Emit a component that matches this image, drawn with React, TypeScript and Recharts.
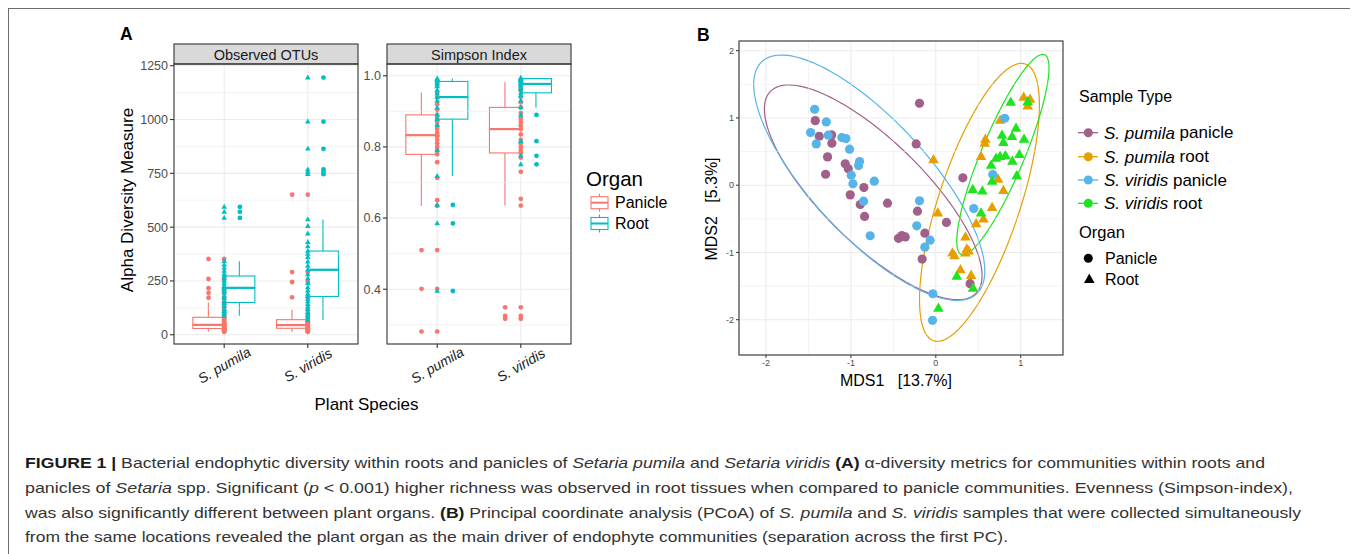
import React from 'react';
import {
  ComposedChart,
  Bar,
  Scatter,
  XAxis,
  YAxis,
  CartesianGrid,
  ReferenceLine,
  ReferenceArea,
} from 'recharts';

const FONT = '"Liberation Sans", Arial, Helvetica, sans-serif';
const RED = '#F8766D';
const TEAL = '#00BFC4';
const GRID = '#EBEBEB';
const C_PP = '#A0608A';
const C_PR = '#E69F00';
const C_VP = '#56B4E9';
const C_VR = '#1EE31E';

// ---------------- Panel A data ----------------
const speciesLabels = ['S. pumila', 'S. viridis'];
const organLabels = ['Panicle', 'Root'];
const otuTicks = [0, 250, 500, 750, 1000, 1250];
const otuMinorTicks = [125, 375, 625, 875, 1125];
const simpsonTicks = [0.4, 0.6, 0.8, 1.0];
const simpsonMinorTicks = [0.3, 0.5, 0.7, 0.9];

// box summaries: [lower whisker, Q1, median, Q3, upper whisker] for S. pumila, S. viridis
const otuPanicleBox = [[14, 29, 46, 81, 150], [14, 30, 45, 70, 116]];
const otuRootBox = [[88, 150, 218, 273, 342], [68, 178, 302, 389, 536]];
const otuPanicleOutliers = [[172, 195, 216, 259, 352], [174, 245, 291, 651]];
const otuRootOutliers = [[543, 571, 594], [746, 757, 768, 864, 990, 1195]];
const otuPanicleSamples = [
  [14, 16, 18, 20, 22, 25, 28, 30, 33, 36, 40, 44, 46, 48, 52, 56, 62, 70, 78, 81, 95, 110, 130, 149, 172, 195, 216, 259, 352],
  [14, 16, 19, 22, 25, 28, 30, 34, 38, 42, 45, 48, 52, 58, 64, 70, 82, 95, 116, 174, 245, 291, 651],
];
const otuRootSamples = [
  [88, 98, 110, 120, 132, 145, 150, 158, 170, 182, 195, 205, 212, 218, 226, 238, 250, 262, 273, 282, 296, 310, 325, 342, 543, 571, 594],
  [68, 80, 92, 105, 118, 130, 142, 155, 165, 178, 190, 205, 220, 240, 262, 280, 302, 320, 340, 360, 375, 389, 410, 430, 470, 505, 536, 746, 757, 768, 864, 990, 1195],
];

const simpsonPanicleBox = [[0.634, 0.779, 0.833, 0.89, 0.953], [0.635, 0.783, 0.85, 0.911, 0.982]];
const simpsonRootBox = [[0.718, 0.878, 0.94, 0.984, 0.992], [0.911, 0.952, 0.977, 0.992, 0.994]];
const simpsonPanicleOutliers = [[0.281, 0.401, 0.51], [0.317, 0.325, 0.349]];
const simpsonRootOutliers = [[0.395, 0.585, 0.637], [0.751, 0.775, 0.816, 0.89]];
const simpsonPanicleSamples = [
  [0.281, 0.401, 0.51, 0.634, 0.65, 0.713, 0.757, 0.779, 0.79, 0.8, 0.81, 0.82, 0.83, 0.833, 0.84, 0.85, 0.86, 0.87, 0.88, 0.89, 0.905, 0.92, 0.94, 0.953],
  [0.317, 0.325, 0.349, 0.635, 0.654, 0.73, 0.77, 0.783, 0.79, 0.8, 0.81, 0.82, 0.835, 0.85, 0.86, 0.87, 0.88, 0.895, 0.911, 0.925, 0.94, 0.96, 0.982],
];
const simpsonRootSamples = [
  [0.395, 0.585, 0.637, 0.718, 0.79, 0.86, 0.878, 0.89, 0.91, 0.93, 0.94, 0.95, 0.96, 0.97, 0.975, 0.98, 0.984, 0.988, 0.99, 0.992],
  [0.751, 0.775, 0.816, 0.89, 0.911, 0.93, 0.945, 0.952, 0.96, 0.965, 0.97, 0.975, 0.977, 0.98, 0.985, 0.988, 0.99, 0.992, 0.994],
];

// ---------------- Panel B data ----------------
const mdsXTicks = [-2, -1, 0, 1];
const mdsYTicks = [-2, -1, 0, 1, 2];
const mdsXMinor = [-1.5, -0.5, 0.5];
const mdsYMinor = [-1.5, -0.5, 0.5, 1.5];

const pumilaPanicle = [
  { x: -0.192, y: 1.218 }, { x: -1.42, y: 0.96 }, { x: -1.373, y: 0.728 }, { x: -1.227, y: 0.748 },
  { x: -1.224, y: 0.624 }, { x: -1.275, y: 0.421 }, { x: -1.298, y: 0.163 }, { x: -1.067, y: 0.317 },
  { x: -1.031, y: 0.243 }, { x: -1.008, y: -0.144 }, { x: -0.847, y: -0.035 }, { x: -0.89, y: -0.287 },
  { x: -0.839, y: -0.465 }, { x: -0.569, y: -0.267 }, { x: -0.231, y: 0.614 }, { x: -0.216, y: -0.386 },
  { x: -0.44, y: -0.79 }, { x: -0.4, y: -0.75 }, { x: -0.36, y: -0.77 }, { x: -0.129, y: -0.713 },
  { x: -0.161, y: -1.099 }, { x: 0.125, y: -0.554 }, { x: 0.318, y: 0.109 }, { x: 0.404, y: -1.465 },
];
const pumilaRoot = [
  { x: -0.027, y: 0.376 }, { x: 0.024, y: -0.416 }, { x: 1.035, y: 1.307 }, { x: 1.11, y: 1.277 },
  { x: 1.082, y: 1.178 }, { x: 0.757, y: 0.965 }, { x: 0.584, y: 0.683 }, { x: 0.576, y: 0.624 },
  { x: 0.533, y: 0.426 }, { x: 0.733, y: 0.089 }, { x: 0.796, y: -0.079 }, { x: 0.663, y: -0.332 },
  { x: 0.561, y: -0.505 }, { x: 0.475, y: -0.574 }, { x: 0.349, y: -0.772 }, { x: 0.365, y: -0.95 },
  { x: 0.388, y: -0.98 }, { x: 0.349, y: -1.01 }, { x: 0.196, y: -1.01 }, { x: 0.22, y: -1.05 },
  { x: 0.29, y: -1.257 }, { x: 0.416, y: -1.342 },
];
const viridisPanicle = [
  { x: -1.427, y: 1.129 }, { x: -1.29, y: 0.941 }, { x: -1.475, y: 0.782 }, { x: -1.408, y: 0.614 },
  { x: -1.267, y: 0.743 }, { x: -1.106, y: 0.708 }, { x: -1.059, y: 0.693 }, { x: -1.016, y: 0.535 },
  { x: -0.898, y: 0.351 }, { x: -0.91, y: 0.292 }, { x: -0.996, y: 0.149 }, { x: -0.976, y: 0.02 },
  { x: -0.725, y: 0.059 }, { x: -0.851, y: -0.238 }, { x: -0.773, y: -0.752 }, { x: -0.192, y: -0.233 },
  { x: -0.224, y: -0.604 }, { x: -0.067, y: -0.817 }, { x: -0.129, y: -0.921 }, { x: -0.035, y: -1.614 },
  { x: -0.039, y: -2.01 }, { x: 0.447, y: -0.347 }, { x: 0.671, y: 0.158 }, { x: 0.812, y: 0.995 },
];
const viridisRoot = [
  { x: 0.882, y: 1.233 }, { x: 1.082, y: 1.238 }, { x: 0.945, y: 0.847 }, { x: 0.78, y: 0.743 },
  { x: 0.898, y: 0.723 }, { x: 1.039, y: 0.683 }, { x: 0.796, y: 0.634 }, { x: 0.71, y: 0.401 },
  { x: 0.757, y: 0.426 }, { x: 0.82, y: 0.436 }, { x: 0.984, y: 0.455 }, { x: 0.902, y: 0.356 },
  { x: 0.651, y: 0.297 }, { x: 0.663, y: 0.059 }, { x: 0.953, y: 0.139 }, { x: 0.435, y: -0.064 },
  { x: 0.549, y: -0.089 }, { x: 0.533, y: -0.416 }, { x: 0.247, y: -1.356 }, { x: 0.439, y: -1.535 },
  { x: 0.031, y: -1.832 },
];

// ellipse summaries per sample type (pumila panicle, pumila root, viridis panicle, viridis root)
const ellipseCenterX = [-0.737, 0.514, -0.784, 0.79];
const ellipseCenterY = [-0.106, -0.255, 0.111, 0.455];
const ellipseHalfWidth = [1.282, 0.706, 1.361, 0.543];
const ellipseHalfHeight = [1.597, 2.067, 1.824, 1.49];
const ellipseCorrelation = [-0.776, 0.7, -0.76, 0.864];
const sampleColors = [C_PP, C_PR, C_VP, C_VR];
const sampleSeries = [pumilaPanicle, pumilaRoot, viridisPanicle, viridisRoot];
const sampleIsRoot = [false, true, false, true];

// ---------------- helpers ----------------
const PLOT_TOP = 64;
const PLOT_W = 184;
const PLOT_H = 280;
const PAD = 8.4;
const DODGE = 0.1875;
const TOPM = 10;

function boxRows(pan: number[][], root: number[][]) {
  return speciesLabels.map((species, i) => {
    const p = pan[i];
    const r = root[i];
    return {
      species,
      pBase: p[0], pWL: p[1] - p[0], pBL: p[2] - p[1], pBH: p[3] - p[2], pWH: p[4] - p[3],
      rBase: r[0], rWL: r[1] - r[0], rBL: r[2] - r[1], rBH: r[3] - r[2], rWH: r[4] - r[3],
    };
  });
}
function pointRows(lists: number[][], offset: number) {
  return lists.flatMap((vals, i) => vals.map((y) => ({ x: i + 1 + offset, y })));
}

const NoShape = () => <g />;
const whiskerShape = (color: string) => (p: any) => {
  const cx = p.x + p.width / 2;
  return <line x1={cx} x2={cx} y1={p.y} y2={p.y + p.height} stroke={color} strokeWidth={1.1} />;
};
const boxShape = (color: string, median: boolean) => (p: any) => (
  <g>
    <rect x={p.x} y={p.y} width={p.width} height={p.height} fill="#fff" stroke={color} strokeWidth={1.1} />
    {median ? (
      <line x1={p.x} x2={p.x + p.width} y1={p.y + p.height} y2={p.y + p.height} stroke={color} strokeWidth={2.2} />
    ) : null}
  </g>
);
const dotShape = (color: string, r: number) => (p: any) => <circle cx={p.cx} cy={p.cy} r={r} fill={color} />;
const triShape = (color: string, s: number) => (p: any) => (
  <path
    d={`M${p.cx},${p.cy - s * 1.1}L${p.cx + s},${p.cy + s * 0.65}L${p.cx - s},${p.cy + s * 0.65}Z`}
    fill={color}
  />
);

const SpeciesTick = (props: any) => {
  const { x, y, payload } = props;
  const cy = y + 17;
  return (
    <text
      x={x}
      y={cy}
      textAnchor="middle"
      dominantBaseline="central"
      transform={`rotate(-30 ${x} ${cy})`}
      fontSize={14}
      fontStyle="italic"
      fill="#1A1A1A"
      fontFamily={FONT}
    >
      {payload.value}
    </text>
  );
};

type FacetProps = {
  left: number;
  yWidth: number;
  pan: number[][];
  root: number[][];
  panOut: number[][];
  rootOut: number[][];
  panSamp: number[][];
  rootSamp: number[][];
  domain: [number, number];
  ticks: number[];
  minorTicks: number[];
  fmt: (v: number) => string;
};

function Facet(f: FacetProps) {
  const rows = boxRows(f.pan, f.root);
  return (
    <div style={{ position: 'absolute', left: f.left - f.yWidth - 9, top: PLOT_TOP - TOPM - 9 }}>
      <ComposedChart
        width={f.yWidth + PLOT_W}
        height={TOPM + PLOT_H + 56}
        data={rows}
        margin={{ top: TOPM, right: 0, bottom: 0, left: 0 }}
        barCategoryGap="12.5%"
        barGap={0}
      >
        <CartesianGrid xAxisId="cat" vertical={false} stroke={GRID} strokeWidth={1.1} />
        {f.minorTicks.map((v) => (
          <ReferenceLine key={'m' + v} xAxisId="num" y={v} stroke={GRID} strokeWidth={0.6} />
        ))}
        {[1, 2].map((v) => (
          <ReferenceLine key={'v' + v} xAxisId="num" x={v} stroke={GRID} strokeWidth={1.1} />
        ))}
        <XAxis
          xAxisId="cat"
          dataKey="species"
          type="category"
          padding={{ left: PAD, right: PAD }}
          height={56}
          axisLine={false}
          tickLine={{ stroke: '#333', strokeWidth: 1.1 }}
          tickSize={4}
          tickMargin={0}
          interval={0}
          tick={<SpeciesTick />}
        />
        <XAxis
          xAxisId="num"
          dataKey="x"
          type="number"
          domain={[0.5, 2.5]}
          allowDataOverflow
          hide
          padding={{ left: PAD, right: PAD }}
        />
        <YAxis
          dataKey="y"
          type="number"
          domain={f.domain}
          ticks={f.ticks}
          allowDataOverflow
          interval={0}
          width={f.yWidth}
          axisLine={false}
          tickLine={{ stroke: '#333', strokeWidth: 1.1 }}
          tickSize={4}
          tickMargin={2}
          tickFormatter={f.fmt}
          tick={{ fill: '#4D4D4D', fontSize: 12.5, fontFamily: FONT }}
        />
        <Bar xAxisId="cat" dataKey="pBase" stackId="p" shape={NoShape} isAnimationActive={false} />
        <Bar xAxisId="cat" dataKey="pWL" stackId="p" shape={whiskerShape(RED)} isAnimationActive={false} />
        <Bar xAxisId="cat" dataKey="pBL" stackId="p" shape={boxShape(RED, false)} isAnimationActive={false} />
        <Bar xAxisId="cat" dataKey="pBH" stackId="p" shape={boxShape(RED, true)} isAnimationActive={false} />
        <Bar xAxisId="cat" dataKey="pWH" stackId="p" shape={whiskerShape(RED)} isAnimationActive={false} />
        <Bar xAxisId="cat" dataKey="rBase" stackId="r" shape={NoShape} isAnimationActive={false} />
        <Bar xAxisId="cat" dataKey="rWL" stackId="r" shape={whiskerShape(TEAL)} isAnimationActive={false} />
        <Bar xAxisId="cat" dataKey="rBL" stackId="r" shape={boxShape(TEAL, false)} isAnimationActive={false} />
        <Bar xAxisId="cat" dataKey="rBH" stackId="r" shape={boxShape(TEAL, true)} isAnimationActive={false} />
        <Bar xAxisId="cat" dataKey="rWH" stackId="r" shape={whiskerShape(TEAL)} isAnimationActive={false} />
        <Scatter xAxisId="num" data={pointRows(f.panOut, -DODGE)} shape={dotShape(RED, 2.4)} isAnimationActive={false} />
        <Scatter xAxisId="num" data={pointRows(f.rootOut, DODGE)} shape={dotShape(TEAL, 2.4)} isAnimationActive={false} />
        <Scatter xAxisId="num" data={pointRows(f.panSamp, 0)} shape={dotShape(RED, 2.4)} isAnimationActive={false} />
        <Scatter xAxisId="num" data={pointRows(f.rootSamp, 0)} shape={triShape(TEAL, 2.8)} isAnimationActive={false} />
      </ComposedChart>
    </div>
  );
}

const EllipseShape = (p: any) => {
  const { x, y, width, height, rho, color } = p;
  const cx = x + width / 2;
  const cy = y + height / 2;
  const a = Math.abs(width) / 2;
  const b = Math.abs(height) / 2;
  const k = Math.sqrt(1 - rho * rho);
  let d = '';
  for (let i = 0; i <= 144; i++) {
    const t = (i / 144) * Math.PI * 2;
    const px = cx + a * Math.cos(t);
    const py = cy - rho * b * Math.cos(t) + k * b * Math.sin(t);
    d += (i === 0 ? 'M' : 'L') + px.toFixed(2) + ',' + py.toFixed(2);
  }
  return <path d={d + 'Z'} fill="none" stroke={color} strokeWidth={1.2} />;
};

function PanelB() {
  return (
    <div style={{ position: 'absolute', left: 725 - 9, top: 41 - TOPM - 9 }}>
      <ComposedChart
        width={14 + 324}
        height={TOPM + 314 + 24}
        margin={{ top: TOPM, right: 0, bottom: 0, left: 0 }}
      >
        <CartesianGrid stroke={GRID} strokeWidth={1.1} />
        {mdsXMinor.map((v) => (
          <ReferenceLine key={'mx' + v} x={v} stroke={GRID} strokeWidth={0.6} />
        ))}
        {mdsYMinor.map((v) => (
          <ReferenceLine key={'my' + v} y={v} stroke={GRID} strokeWidth={0.6} />
        ))}
        <XAxis
          dataKey="x"
          type="number"
          domain={[-2.318, 1.498]}
          ticks={mdsXTicks}
          allowDataOverflow
          interval={0}
          height={24}
          axisLine={false}
          tickLine={{ stroke: '#333', strokeWidth: 1 }}
          tickSize={3}
          tickMargin={2}
          tick={{ fill: '#4D4D4D', fontSize: 9, fontFamily: FONT }}
        />
        <YAxis
          dataKey="y"
          type="number"
          domain={[-2.525, 2.144]}
          ticks={mdsYTicks}
          allowDataOverflow
          interval={0}
          width={14}
          axisLine={false}
          tickLine={{ stroke: '#333', strokeWidth: 1 }}
          tickSize={3}
          tickMargin={2}
          tick={{ fill: '#4D4D4D', fontSize: 9, fontFamily: FONT }}
        />
        {sampleSeries.map((data, i) => (
          <Scatter
            key={'s' + i}
            data={data}
            shape={sampleIsRoot[i] ? triShape(sampleColors[i], 5.3) : dotShape(sampleColors[i], 4.6)}
            isAnimationActive={false}
          />
        ))}
        {ellipseCenterX.map((cx, i) => (
          <ReferenceArea
            key={'e' + i}
            x1={cx - ellipseHalfWidth[i]}
            x2={cx + ellipseHalfWidth[i]}
            y1={ellipseCenterY[i] - ellipseHalfHeight[i]}
            y2={ellipseCenterY[i] + ellipseHalfHeight[i]}
            ifOverflow="visible"
            shape={(p: any) => <EllipseShape {...p} rho={ellipseCorrelation[i]} color={sampleColors[i]} />}
          />
        ))}
      </ComposedChart>
    </div>
  );
}

type Seg = [string, string];
const captionLines: Seg[][] = [
  [
    ['FIGURE 1 |', 'b'],
    [' Bacterial endophytic diversity within roots and panicles of ', ''],
    ['Setaria pumila', 'i'],
    [' and ', ''],
    ['Setaria viridis', 'i'],
    [' ', ''],
    ['(A)', 'b'],
    [' \u03b1-diversity metrics for communities within roots and', ''],
  ],
  [
    ['panicles of ', ''],
    ['Setaria', 'i'],
    [' spp. Significant (', ''],
    ['p', 'i'],
    [' < 0.001) higher richness was observed in root tissues when compared to panicle communities. Evenness (Simpson-index),', ''],
  ],
  [
    ['was also significantly different between plant organs. ', ''],
    ['(B)', 'b'],
    [' Principal coordinate analysis (PCoA) of ', ''],
    ['S. pumila', 'i'],
    [' and ', ''],
    ['S. viridis', 'i'],
    [' samples that were collected simultaneously', ''],
  ],
  [['from the same locations revealed the plant organ as the main driver of endophyte communities (separation across the first PC).', '']],
];
const captionBaselines = [468, 493, 517.5, 542];
const captionWidths = [1240, 1268, 1276, 983];

function Overlay() {
  const sampleLegendY = [132.7, 156.7, 180, 203.3];
  const organLegendY = [202.7, 223.5];
  const organColors = [RED, TEAL];
  const organLower = ['panicle', 'root'];
  return (
    <svg
      width={1358}
      height={554}
      style={{ position: 'absolute', left: -9, top: -9, pointerEvents: 'none' }}
      fontFamily={FONT}
    >
      {/* panel labels */}
      <text x={120} y={39.5} fontSize={17.5} fontWeight="bold" fill="#000">A</text>
      <text x={697} y={41} fontSize={17.5} fontWeight="bold" fill="#000">B</text>

      {/* strips */}
      {['Observed OTUs', 'Simpson Index'].map((t, i) => {
        const x = i === 0 ? 174 : 387;
        return (
          <g key={t}>
            <rect x={x} y={44} width={PLOT_W} height={20} fill="#D9D9D9" stroke="#333" strokeWidth={1.1} />
            <text x={x + PLOT_W / 2} y={54.5} textAnchor="middle" dominantBaseline="central" fontSize={14.5} fill="#1A1A1A">
              {t}
            </text>
          </g>
        );
      })}
      {/* panel borders */}
      <rect x={174} y={PLOT_TOP} width={PLOT_W} height={PLOT_H} fill="none" stroke="#333" strokeWidth={1.1} />
      <rect x={387} y={PLOT_TOP} width={PLOT_W} height={PLOT_H} fill="none" stroke="#333" strokeWidth={1.1} />
      <rect x={739} y={41} width={324} height={314} fill="none" stroke="#333" strokeWidth={1.1} />

      {/* panel A axis titles */}
      <text transform="translate(127,200) rotate(-90)" textAnchor="middle" dominantBaseline="central" fontSize={17} fill="#000">
        Alpha Diversity Measure
      </text>
      <text x={366.5} y={404} textAnchor="middle" dominantBaseline="central" fontSize={17} fill="#000">
        Plant Species
      </text>

      {/* panel A legend */}
      <text x={586} y={178.5} dominantBaseline="central" fontSize={20.5} fill="#000">Organ</text>
      {organLabels.map((lab, i) => {
        const cy = organLegendY[i];
        const c = organColors[i];
        return (
          <g key={lab}>
            <line x1={599.5} x2={599.5} y1={cy - 9} y2={cy + 9} stroke={c} strokeWidth={1.1} />
            <rect x={591} y={cy - 6} width={17} height={12} fill="#fff" stroke={c} strokeWidth={1.1} />
            <line x1={591} x2={608} y1={cy} y2={cy} stroke={c} strokeWidth={2} />
            <text x={615} y={cy} dominantBaseline="central" fontSize={16} fill="#000">{lab}</text>
          </g>
        );
      })}

      {/* panel B axis titles */}
      <text x={896} y={380} textAnchor="middle" dominantBaseline="central" fontSize={16} fill="#000" style={{ whiteSpace: 'pre' }}>
        {'MDS1   [13.7%]'}
      </text>
      <text transform="translate(711,209) rotate(-90)" textAnchor="middle" dominantBaseline="central" fontSize={16} fill="#000" style={{ whiteSpace: 'pre' }}>
        {'MDS2   [5.3%]'}
      </text>

      {/* panel B legend */}
      <text x={1079} y={96.7} dominantBaseline="central" fontSize={16} fill="#000">Sample Type</text>
      {sampleColors.map((c, i) => {
        const cy = sampleLegendY[i];
        return (
          <g key={'lg' + i}>
            <line x1={1078} x2={1098} y1={cy} y2={cy} stroke={c} strokeWidth={1.3} />
            <circle cx={1088.3} cy={cy} r={4.5} fill={c} />
            <text x={1104} y={cy} dominantBaseline="central" fontSize={17} fill="#000" style={{ whiteSpace: 'pre' }}>
              <tspan fontStyle="italic">{speciesLabels[Math.floor(i / 2)]}</tspan>
              {' ' + organLower[i % 2]}
            </text>
          </g>
        );
      })}
      <text x={1079} y={231.7} dominantBaseline="central" fontSize={16.5} fill="#000">Organ</text>
      <circle cx={1088.3} cy={258.3} r={4.5} fill="#000" />
      <text x={1105} y={258.3} dominantBaseline="central" fontSize={16} fill="#000">{organLabels[0]}</text>
      <path d="M1089.3,273.5L1094.6,283L1084,283Z" fill="#000" />
      <text x={1105} y={279.3} dominantBaseline="central" fontSize={16} fill="#000">{organLabels[1]}</text>

      {/* caption */}
      {captionLines.map((segs, i) => (
        <text
          key={'cap' + i}
          x={25}
          y={captionBaselines[i]}
          fontSize={14.5}
          fill="#333"
          textLength={captionWidths[i]}
          lengthAdjust="spacingAndGlyphs"
          style={{ whiteSpace: 'pre' }}
        >
          {segs.map(([t, s], j) => (
            <tspan
              key={j}
              fontWeight={s === 'b' ? 'bold' : undefined}
              fontStyle={s === 'i' ? 'italic' : undefined}
              fill={s === 'b' ? '#1A1A1A' : undefined}
            >
              {t}
            </tspan>
          ))}
        </text>
      ))}
    </svg>
  );
}

export default function App() {
  return (
    <div
      style={{
        position: 'relative',
        width: 1346,
        height: 560,
        borderTop: '1px solid #6E6E6E',
        borderLeft: '1px solid #6E6E6E',
        borderRight: '1px solid #6E6E6E',
        background: '#fff',
        fontFamily: FONT,
      }}
    >
      <style>{'html,body{overflow:hidden;}'}</style>
      <Facet
        left={174}
        yWidth={44}
        pan={otuPanicleBox}
        root={otuRootBox}
        panOut={otuPanicleOutliers}
        rootOut={otuRootOutliers}
        panSamp={otuPanicleSamples}
        rootSamp={otuRootSamples}
        domain={[-43, 1258]}
        ticks={otuTicks}
        minorTicks={otuMinorTicks}
        fmt={(v) => String(v)}
      />
      <Facet
        left={387}
        yWidth={30}
        pan={simpsonPanicleBox}
        root={simpsonRootBox}
        panOut={simpsonPanicleOutliers}
        rootOut={simpsonRootOutliers}
        panSamp={simpsonPanicleSamples}
        rootSamp={simpsonRootSamples}
        domain={[0.246, 1.033]}
        ticks={simpsonTicks}
        minorTicks={simpsonMinorTicks}
        fmt={(v) => v.toFixed(1)}
      />
      <PanelB />
      <Overlay />
    </div>
  );
}
